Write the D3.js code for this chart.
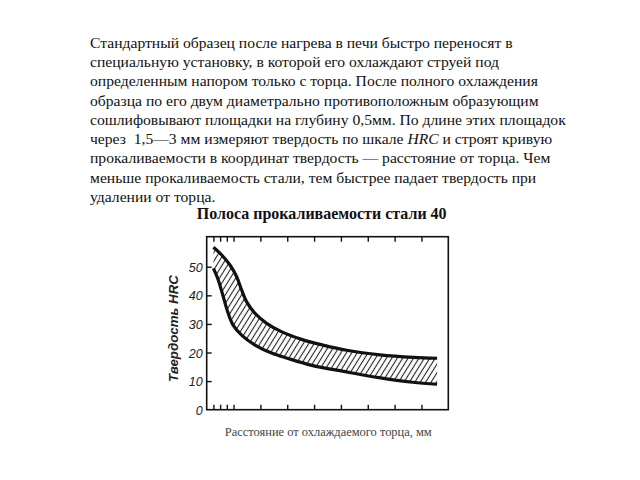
<!DOCTYPE html>
<html><head><meta charset="utf-8">
<script src="https://cdn.jsdelivr.net/npm/d3@7"></script>
<style>html,body{margin:0;padding:0;background:#fff;} svg{display:block;}</style>
</head><body>
<svg id="c" width="640" height="480"></svg>
<script>
// ---- data ----
const paragraphLines = [
  ["Стандартный образец после нагрева в печи быстро переносят в"],
  ["специальную установку, в которой его охлаждают струей под"],
  ["определенным напором только с торца. После полного охлаждения"],
  ["образца по его двум диаметрально противоположным образующим"],
  ["сошлифовывают площадки на глубину 0,5мм. По длине этих площадок"],
  ["через  1,5—3 мм измеряют твердость по шкале ", "HRC", " и строят кривую"],
  ["прокаливаемости в координат твердость — расстояние от торца. Чем"],
  ["меньше прокаливаемость стали, тем быстрее падает твердость при"],
  ["удалении от торца."]
];
const title = "Полоса прокаливаемости стали 40";
const yLabel = "Твердость HRC";
const xLabel = "Расстояние от охлаждаемого торца, мм";
const upperDist = [1.5, 3.35, 5.2, 6.7, 7.8, 8.9, 10.8, 13.4, 16.8, 21.2, 26, 31.3, 38.7, 46.2, 51.5];
const upperHRC  = [56.8, 54.1, 50.6, 46.5, 41.9, 37.8, 33.7, 30.2, 27.2, 24.6, 22.6, 20.8, 19.2, 18.3, 18.0];
const lowerDist = [1.5, 2.6, 3.7, 4.8, 5.9, 7.8, 10.8, 14.5, 18, 23.5, 31, 38.5, 46, 51.5];
const lowerHRC  = [49.4, 45.3, 39.5, 33.7, 29.6, 26.1, 22.6, 19.8, 18.0, 15.5, 13.3, 11.2, 9.6, 8.9];
const yTicks = [0, 10, 20, 30, 40, 50];
const xTicks = [1.5, 3, 4.5, 6, 12, 18, 24, 30, 36, 42, 48];

// ---- layout ----
const svg = d3.select("#c");
const L = 206.7, R = 448.3, T = 236.7, B = 409.7;
const x = d3.scaleLinear().domain([0, 54]).range([L, R]);
const y = d3.scaleLinear().domain([0, 60.5]).range([B, T]);

function fitText(sel, width) {
  const w = sel.node().getComputedTextLength();
  const fs = parseFloat(sel.attr("font-size"));
  sel.attr("font-size", fs * width / w);
}

// paragraph
const serif = "'Liberation Serif','Times New Roman',serif";
const para = svg.append("g").attr("fill", "#111").attr("font-family", serif);
paragraphLines.forEach((parts, i) => {
  const t = para.append("text").attr("x", 90).attr("y", 47.8 + i * 19.25)
    .attr("font-size", 16).style("white-space", "pre");
  parts.forEach((p, j) => {
    t.append("tspan").text(p).attr("font-style", (parts.length === 3 && j === 1) ? "italic" : null);
  });
});
{
  const first = para.select("text");
  const w = first.node().getComputedTextLength();
  para.selectAll("text").attr("font-size", 16 * 423 / w);
}

// title
const tt = svg.append("text").attr("x", 321.7).attr("y", 218.5).attr("text-anchor", "middle")
  .attr("font-family", serif).attr("font-weight", "bold").attr("font-size", 16).attr("fill", "#111").text(title);
fitText(tt, 250);

// hatch pattern
const defs = svg.append("defs");
const pat = defs.append("pattern").attr("id", "hatch").attr("patternUnits", "userSpaceOnUse")
  .attr("width", 4.6).attr("height", 10).attr("patternTransform", "rotate(32)");
pat.append("line").attr("x1", 2.3).attr("y1", -1).attr("x2", 2.3).attr("y2", 11)
  .attr("stroke", "#222").attr("stroke-width", 1.1);

const up = upperDist.map((d, i) => [x(d), y(upperHRC[i])]);
const lo = lowerDist.map((d, i) => [x(d), y(lowerHRC[i])]);
const curve = d3.curveCatmullRom.alpha(0.5);
const line = d3.line().curve(curve);
const bandPath = line(up) + "L" + line(lo.slice().reverse()).slice(1) + "Z";
svg.append("path").attr("d", bandPath).attr("fill", "url(#hatch)");
svg.append("path").attr("d", line(up)).attr("fill", "none").attr("stroke", "#111").attr("stroke-width", 3.2);
svg.append("path").attr("d", line(lo)).attr("fill", "none").attr("stroke", "#111").attr("stroke-width", 3.2);

// frame
svg.append("rect").attr("x", L).attr("y", T).attr("width", R - L).attr("height", B - T)
  .attr("fill", "none").attr("stroke", "#111").attr("stroke-width", 1.6);

// axes with inward ticks
const axisStyle = g => { g.select(".domain").remove(); g.selectAll("line").attr("stroke", "#111").attr("stroke-width", 1.4); };
svg.append("g").attr("transform", `translate(0,${T})`)
  .call(d3.axisTop(x).tickValues(xTicks).tickSize(-5).tickFormat(""))
  .call(axisStyle);
svg.append("g").attr("transform", `translate(0,${B})`)
  .call(d3.axisBottom(x).tickValues(xTicks).tickSize(-5).tickFormat(""))
  .call(axisStyle);
const ya = svg.append("g").attr("transform", `translate(${L},0)`)
  .call(d3.axisLeft(y).tickValues(yTicks).tickSize(-5).tickPadding(8))
  .call(axisStyle);
ya.selectAll("text").attr("font-family", "'Liberation Sans',Arial,sans-serif")
  .attr("font-style", "italic").attr("font-size", 12.5).attr("fill", "#222").attr("dx", 4).attr("dy", "0.36em");
ya.selectAll(".tick").filter(d => d === 0).select("line").remove();

// y label
const yl = svg.append("text").attr("transform", "translate(177.5,328.5) rotate(-90)")
  .attr("text-anchor", "middle").attr("font-family", "'Liberation Sans',Arial,sans-serif")
  .attr("font-style", "italic").attr("font-weight", "bold").attr("font-size", 12).attr("fill", "#222").text(yLabel);
fitText(yl, 107);

// x label
const xl = svg.append("text").attr("x", 328.3).attr("y", 435.7).attr("text-anchor", "middle")
  .attr("font-family", serif).attr("font-size", 13).attr("fill", "#444").text(xLabel);
fitText(xl, 207);
</script>
</body></html>
